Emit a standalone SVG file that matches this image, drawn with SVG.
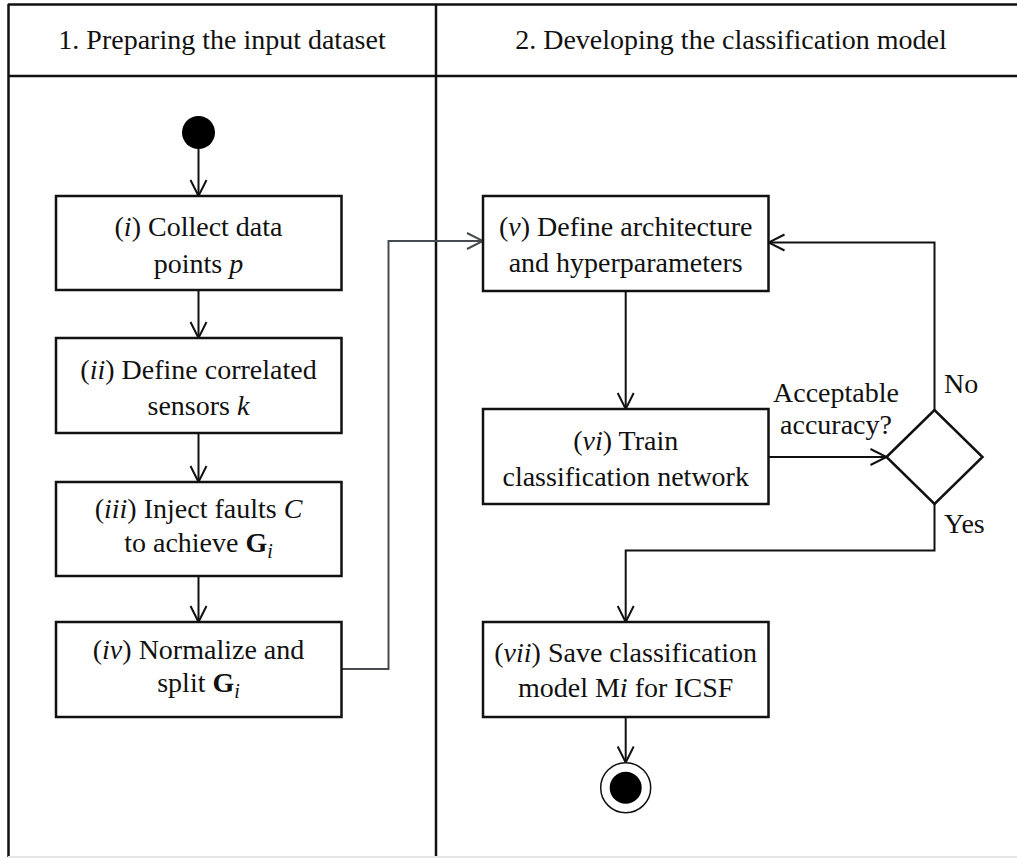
<svg xmlns="http://www.w3.org/2000/svg" width="1017" height="858" viewBox="0 0 1017 858">
<defs>
<style>
.lane{stroke:#111;stroke-width:2.5;fill:none}
.box{fill:#fff;stroke:#111;stroke-width:2.5}
.t{font-family:"Liberation Serif","Times New Roman",serif;font-size:28px;fill:#111;text-anchor:middle}
.tl{font-family:"Liberation Serif","Times New Roman",serif;font-size:28px;fill:#111;text-anchor:start}
.c{stroke:#111;stroke-width:2;fill:none}
.cg{stroke:#464b50;stroke-width:2;fill:none}
.it{font-style:italic}
.b{font-weight:bold}
.sub{font-style:italic;font-size:20px}
</style>
<marker id="arr" viewBox="-19 -10 21 20" refX="0" refY="0" markerWidth="21" markerHeight="20" markerUnits="userSpaceOnUse" orient="auto">
<path d="M-16,-8 L0,0 L-16,8" fill="none" stroke="#111" stroke-width="2"/>
</marker>
<marker id="arrg" viewBox="-19 -10 21 20" refX="0" refY="0" markerWidth="21" markerHeight="20" markerUnits="userSpaceOnUse" orient="auto">
<path d="M-16,-8 L0,0 L-16,8" fill="none" stroke="#464b50" stroke-width="2"/>
</marker>
</defs>
<rect x="0" y="0" width="1017" height="858" fill="#fff"/>
<g id="swimlanes">
<line class="lane" x1="8" y1="4.5" x2="1017" y2="4.5"/>
<line class="lane" x1="8" y1="76" x2="1017" y2="76"/>
<line class="lane" x1="8.5" y1="4" x2="8.5" y2="857"/>
<line class="lane" x1="436" y1="4" x2="436" y2="857"/>
<line x1="8" y1="857" x2="1017" y2="857" stroke="#e6e6e6" stroke-width="2"/>
<text class="t" x="222" y="49">1. Preparing the input dataset</text>
<text class="t" x="731" y="49">2. Developing the classification model</text>
</g>
<g id="connectors">
<line class="c" x1="198.5" y1="149" x2="198.5" y2="196" marker-end="url(#arr)"/>
<line class="c" x1="198.5" y1="290" x2="198.5" y2="338" marker-end="url(#arr)"/>
<line class="c" x1="198.5" y1="433" x2="198.5" y2="482" marker-end="url(#arr)"/>
<line class="c" x1="198.5" y1="576" x2="198.5" y2="622" marker-end="url(#arr)"/>
<polyline class="cg" points="341.5,669 388.5,669 388.5,241 483,241" marker-end="url(#arrg)"/>
<line class="c" x1="625.7" y1="291" x2="625.7" y2="409" marker-end="url(#arr)"/>
<line class="c" x1="768.5" y1="457" x2="886.5" y2="457" marker-end="url(#arr)"/>
<polyline class="c" points="934.5,410 934.5,242.5 768.5,242.5" marker-end="url(#arr)"/>
<polyline class="c" points="934.5,504 934.5,550.5 625.7,550.5 625.7,622" marker-end="url(#arr)"/>
<line class="c" x1="625.7" y1="717" x2="625.7" y2="762.5" marker-end="url(#arr)"/>
<text class="t" x="836" y="402">Acceptable</text>
<text class="t" x="836" y="434">accuracy?</text>
<text class="tl" x="944" y="392.5">No</text>
<text class="tl" x="944" y="532.5">Yes</text>
</g>
<g id="start">
<circle cx="198.5" cy="132.5" r="16.5" fill="#000"/>
</g>
<g id="step-i">
<rect class="box" x="56" y="196" width="285.5" height="94"/>
<text class="t" x="198.5" y="236">(<tspan class="it">i</tspan>) Collect data</text>
<text class="t" x="198.5" y="273">points <tspan class="it">p</tspan></text>
</g>
<g id="step-ii">
<rect class="box" x="56" y="338" width="285.5" height="95"/>
<text class="t" x="198.5" y="378.5">(<tspan class="it">ii</tspan>) Define correlated</text>
<text class="t" x="198.5" y="415">sensors <tspan class="it">k</tspan></text>
</g>
<g id="step-iii">
<rect class="box" x="56" y="482" width="285.5" height="94"/>
<text class="t" x="198.5" y="518">(<tspan class="it">iii</tspan>) Inject faults <tspan class="it">C</tspan></text>
<text class="t" x="198.5" y="552">to achieve <tspan class="b">G</tspan><tspan class="sub" dy="6">i</tspan></text>
</g>
<g id="step-iv">
<rect class="box" x="56" y="622" width="285.5" height="95"/>
<text class="t" x="198.5" y="659">(<tspan class="it">iv</tspan>) Normalize and</text>
<text class="t" x="198.5" y="692">split <tspan class="b">G</tspan><tspan class="sub" dy="6">i</tspan></text>
</g>
<g id="step-v">
<rect class="box" x="483" y="196" width="285.5" height="95"/>
<text class="t" x="625.7" y="236">(<tspan class="it">v</tspan>) Define architecture</text>
<text class="t" x="625.7" y="272">and hyperparameters</text>
</g>
<g id="step-vi">
<rect class="box" x="483" y="409" width="285.5" height="95"/>
<text class="t" x="625.7" y="450">(<tspan class="it">vi</tspan>) Train</text>
<text class="t" x="625.7" y="486">classification network</text>
</g>
<g id="decision">
<polygon points="886.5,457 934.5,410 982.5,457 934.5,504" fill="#fff" stroke="#111" stroke-width="2.5"/>
</g>
<g id="step-vii">
<rect class="box" x="483" y="622" width="285.5" height="95"/>
<text class="t" x="625.7" y="661.5">(<tspan class="it">vii</tspan>) Save classification</text>
<text class="t" x="625.7" y="697">model M<tspan class="it">i</tspan> for ICSF</text>
</g>
<g id="end">
<circle cx="625.7" cy="787.7" r="25" fill="#fff" stroke="#111" stroke-width="1.5"/>
<circle cx="625.7" cy="787.7" r="16" fill="#000"/>
</g>
</svg>
